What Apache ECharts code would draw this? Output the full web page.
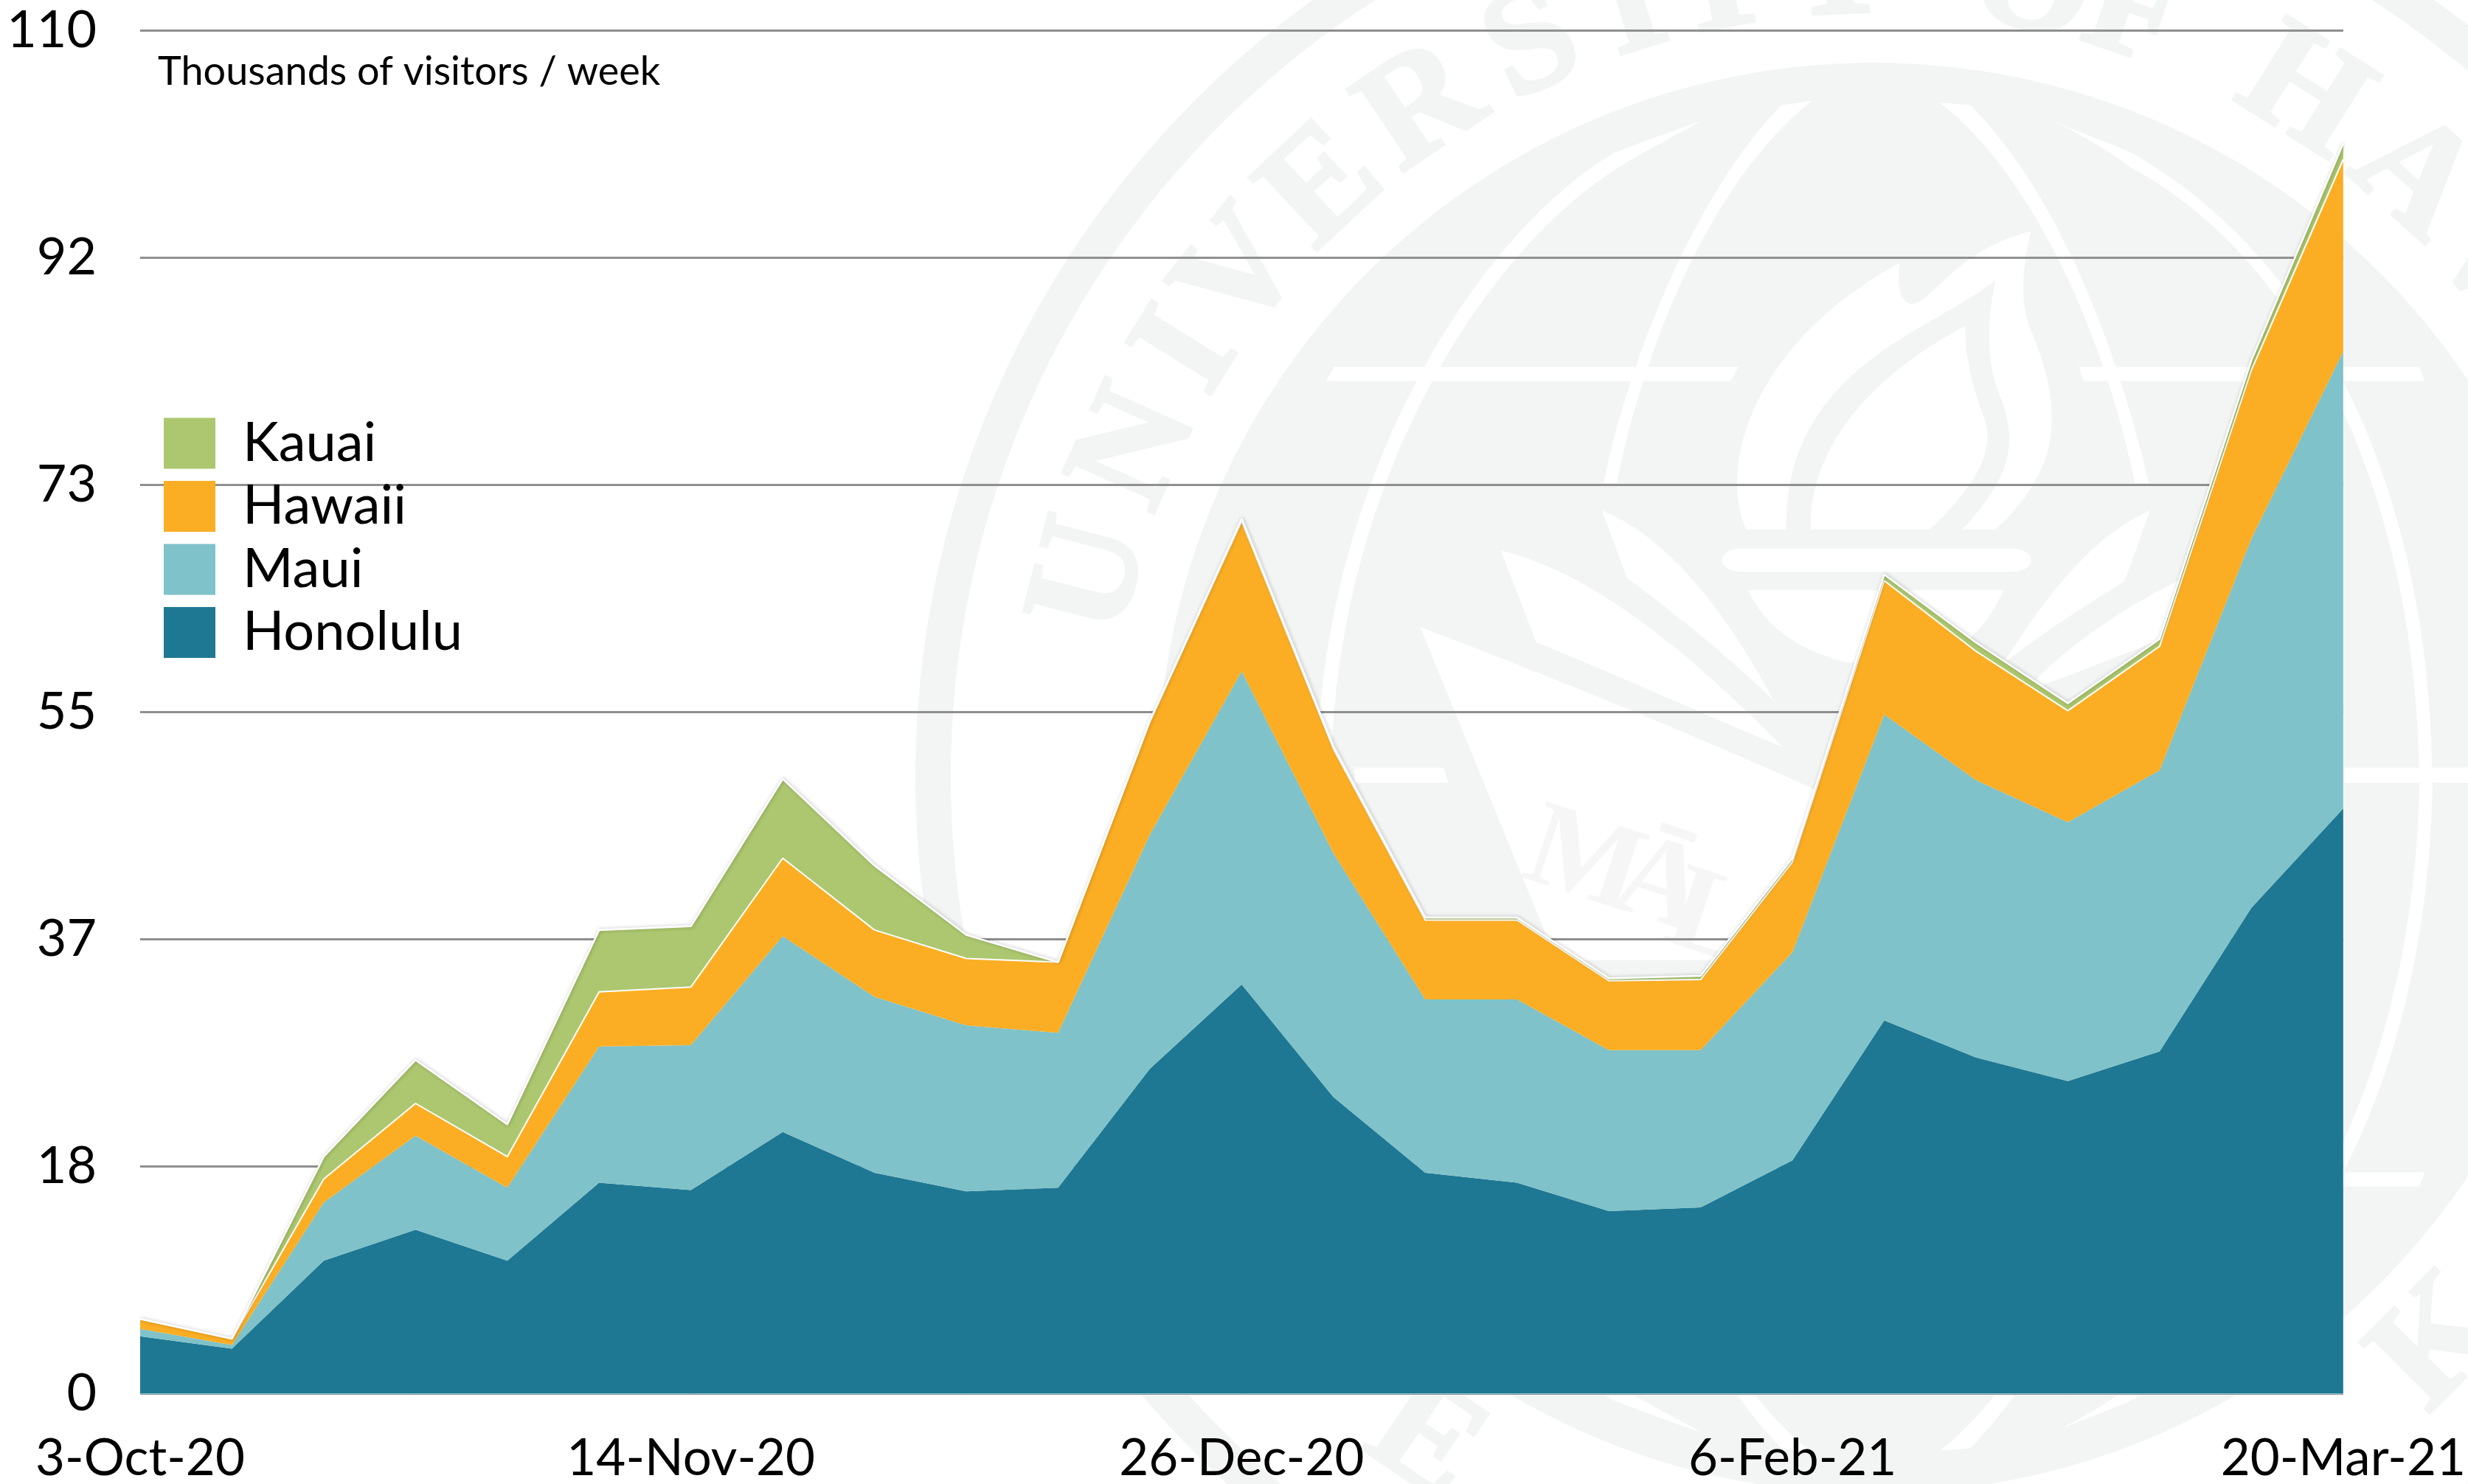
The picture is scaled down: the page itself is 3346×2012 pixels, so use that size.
<!DOCTYPE html>
<html><head><meta charset="utf-8">
<style>html,body{margin:0;padding:0;background:#fff}#c{width:3346px;height:2012px}</style>
<script src="https://cdn.jsdelivr.net/npm/echarts@6/dist/echarts.min.js"></script>
</head><body><div id="c"></div>
<script>
const categories = ['3-Oct-20','10-Oct-20','17-Oct-20','24-Oct-20','31-Oct-20','7-Nov-20','14-Nov-20','21-Nov-20','28-Nov-20','5-Dec-20','12-Dec-20','19-Dec-20','26-Dec-20','2-Jan-21','9-Jan-21','16-Jan-21','23-Jan-21','30-Jan-21','6-Feb-21','13-Feb-21','20-Feb-21','27-Feb-21','6-Mar-21','13-Mar-21','20-Mar-21'];
const honolulu = [4.6,3.6,10.7,13.2,10.7,17.0,16.4,21.1,17.8,16.3,16.6,26.2,33.0,23.9,17.8,17.0,14.7,15.0,18.8,30.1,27.1,25.2,27.6,39.2,47.2];
const maui = [0.6,0.3,4.7,7.6,5.9,11.0,11.7,15.8,14.2,13.4,12.5,18.9,25.3,19.7,14.0,14.8,13.0,12.7,16.8,24.7,22.4,20.9,22.7,29.8,36.9];
const hawaii = [0.8,0.5,1.9,2.6,2.5,4.4,4.7,6.3,5.4,5.4,5.7,9.1,12.1,8.4,6.4,6.4,5.6,5.7,7.3,10.8,10.4,9.0,10.0,13.6,15.5];
const kauai = [0,0,1.8,3.5,2.6,5.0,4.9,6.4,5.2,1.9,0,0.1,0.2,0.2,0.2,0.2,0.2,0.3,0.3,0.5,0.7,0.6,0.6,0.8,1.3];
const yTickLabels = ['0','18','37','55','73','92','110'];
const unitTitle = 'Thousands of visitors / week';
const FONT = 'Lato';
const GREY = '#f3f4f4';

// --- faint university seal behind the chart (decoration, not data) ---
const CX = 2540, CY = 1053;
const ringLetters = [['U',-75.6],['N',-66],['I',-58.2],['V',-51.5],['E',-43],['R',-34],['S',-25],['I',-17.4],['T',-11],['Y',-2.5],['O',11.4],['F',18.9],['H',32.2],['A',42],['W',52],['K',135],['E',214]];
let shapeId = 0;
function white(d){
  const name = 'sealShape' + (++shapeId);
  echarts.graphic.registerShape(name, echarts.graphic.extendPath(d, {}));
  return {type:name,z:-5,silent:true,style:{fill:'#fff'}};
}
const halfMeridians = [
 'M1160,200 C1195,225 1225,240 1243,258 C1420,430 1530,800 1533,1270 L1520,1270 C1517,800 1400,420 1235,275 C1215,250 1190,225 1160,200 Z',
 'M808,198 C770,220 745,235 722,250 C580,390 430,800 428,1270 L442,1270 C445,800 590,410 732,268 C755,245 785,220 808,198 Z',
 'M1045,168 L1075,172 C1170,330 1225,600 1252,790 L1238,790 C1210,560 1140,290 1045,168 Z',
 'M918,165 L888,172 C800,320 735,600 712,790 L725,790 C750,580 815,300 918,165 Z',
 'M437,623 L445,600 L845,600 L838,623 Z',
 'M1183,600 L1520,600 L1525,623 L1187,623 Z'
];
const innerShapes = [
 'M853,866 C825,760 860,560 1005,430 C1002,465 1005,497 1018,497 C1040,490 1060,410 1135,378 C1125,450 1125,500 1135,540 C1165,660 1170,760 1100,866 L1067,866 C1110,790 1125,730 1105,650 C1090,590 1092,520 1100,458 C1040,540 890,600 893,866 Z',
 'M917,866 C915,740 970,620 1070,533 C1070,600 1080,640 1090,690 C1100,750 1070,810 1035,866 Z',
 'M850,897 L1115,897 C1142,897 1142,935 1115,935 L850,935 C822,935 822,897 850,897 Z',
 'M855,965 L1108,965 C1090,1030 1060,1085 1000,1092 L950,1082 C900,1060 870,1020 855,965 Z',
 'M710,835 C780,880 840,1020 880,1145 C840,1080 780,1000 735,945 Z',
 'M610,900 C710,940 810,1090 890,1222 C800,1160 720,1100 645,1050 Z',
 'M1253,835 C1190,880 1140,1000 1108,1085 C1150,1030 1190,990 1228,950 Z',
 'M1280,950 C1220,1000 1160,1070 1130,1130 L1180,1100 L1265,1045 Z',
 'M530,1025 C650,1100 800,1200 920,1290 L935,1570 L665,1570 Z',
 'M465,1255 L553,1255 L558,1280 L465,1280 Z',
 'M1445,1255 L2000,1255 L2000,1280 L1445,1280 Z'
];
const graphics = [
 {type:'ring',z:-8,silent:true,shape:{cx:CX,cy:CY,r:1299,r0:1251},style:{fill:GREY}},
 {type:'circle',z:-8,silent:true,shape:{cx:CX,cy:CY+2,r:970},style:{fill:GREY}},
 {type:'group',x:1200,y:0,scaleX:1/0.7307,scaleY:1/1.206,children:halfMeridians.concat(innerShapes).map(white)},
 {type:'group',x:1200,y:2*CY,scaleX:1/0.7307,scaleY:-1/1.206,children:halfMeridians.map(white)}
];
ringLetters.forEach(([ch,a])=>{
  const t=a*Math.PI/180, r=1090;
  graphics.push({type:'text',z:-6,silent:true,x:CX+r*Math.sin(t),y:CY-r*Math.cos(t),rotation:-(a>90?a-180:a)*Math.PI/180,
    style:{text:ch,fill:GREY,stroke:GREY,lineWidth:5,font:'bold 205px "Liberation Serif"',textAlign:'center',textVerticalAlign:'middle'}});
});
[['M',2147,1172],['Ā',2250,1205],['L',2318,1250]].forEach(([ch,x,y])=>{
  graphics.push({type:'text',z:-4,silent:true,x,y,rotation:-0.32,
    style:{text:ch,fill:'#f6f6f6',font:'bold 165px "Liberation Serif"',textAlign:'center',textVerticalAlign:'middle'}});
});

function area(name,data,color,line){
  return {name,type:'line',stack:'v',data,symbol:'none',smooth:false,
    itemStyle:{color},areaStyle:{color,opacity:1},
    lineStyle:line||{width:0,color},
    emphasis:{disabled:true}};
}
const chart = echarts.init(document.getElementById('c'),null,{renderer:'canvas',width:3346,height:2012});
chart.setOption({
  animation:false,
  backgroundColor:'#fff',
  title:{text:unitTitle,left:214,top:71,padding:0,textStyle:{fontFamily:FONT,fontWeight:'normal',fontSize:54,color:'#000'}},
  legend:{orient:'vertical',left:222,top:564,padding:0,itemWidth:70,itemHeight:69,itemGap:11.5,icon:'rect',selectedMode:false,
    data:['Kauai','Hawaii','Maui','Honolulu'],itemStyle:{borderWidth:0},lineStyle:{width:0},
    textStyle:{fontFamily:FONT,fontSize:74,lineHeight:69,color:'#000',padding:[0,0,0,32]}},
  grid:{left:190,top:41.6,width:2988,height:1847.4,containLabel:false},
  xAxis:{type:'category',boundaryGap:false,data:categories,
    axisLine:{show:true,lineStyle:{color:'#8cc4cf',width:1}},axisTick:{show:false},
    axisLabel:{interval:5,showMinLabel:true,showMaxLabel:true,margin:54,fontFamily:FONT,fontSize:69,color:'#000',hideOverlap:false}},
  yAxis:{type:'value',min:0,max:110,interval:110/6,
    axisLine:{show:false},axisTick:{show:false},
    splitLine:{show:true,lineStyle:{color:'#8f8f8f',width:3}},
    axisLabel:{margin:59,fontFamily:FONT,fontSize:70,color:'#000',padding:[6,0,0,0],formatter:(v,i)=>yTickLabels[i]}},
  graphic:{elements:graphics},
  series:[
    area('Honolulu',honolulu,'#1f7893'),
    area('Maui',maui,'#7fc2c9'),
    area('Hawaii',hawaii,'#fbae24',{width:2,color:'#fff'}),
    area('Kauai',kauai,'#acc76f',{width:2.5,color:'#fff',shadowBlur:5,shadowColor:'rgba(0,0,0,0.28)',shadowOffsetX:1,shadowOffsetY:0})
  ]
});
</script></body></html>
